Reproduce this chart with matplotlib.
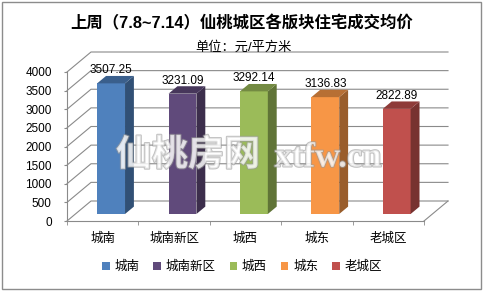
import numpy as np
import matplotlib
matplotlib.use("Agg")
import matplotlib.pyplot as plt
import matplotlib.patheffects as pe
from matplotlib.patches import Polygon, Patch, Rectangle
from matplotlib.transforms import Affine2D, IdentityTransform

plt.rcParams['font.family'] = ['Liberation Sans', 'Noto Sans CJK SC']

# data
districts = ["城南", "城南新区", "城西", "城东", "老城区"]
prices = [3507.25, 3231.09, 3292.14, 3136.83, 2822.89]
colors = ["#4F81BD", "#604A7B", "#9BBB59", "#F79646", "#C0504D"]
y_ticks = [0, 500, 1000, 1500, 2000, 2500, 3000, 3500, 4000]

title = "上周（7.8~7.14）仙桃城区各版块住宅成交均价"
subtitle = "单位：元/平方米"

W, H = 483, 291
fig = plt.figure(figsize=(W / 100, H / 100), dpi=100)
fig.patch.set_facecolor("white")

# front plane of the 3d box: x 67..424 px, y 221..72 px
ax = fig.add_axes([67 / W, 1 - 221 / H, 357 / W, 149 / H])
ax.set_xlim(-0.5, 4.5)
ax.set_ylim(0, 4000)
ax.patch.set_alpha(0)

grid_c = "#8a8a8a"
for s in ["top", "right"]:
    ax.spines[s].set_visible(False)
for s in ["left", "bottom"]:
    ax.spines[s].set_color(grid_c)
    ax.spines[s].set_linewidth(0.8)

ax.set_yticks(y_ticks)
ax.set_yticklabels([str(v) for v in y_ticks], fontsize=8.5)
ax.tick_params(axis="y", length=2, pad=9, color=grid_c)
x = np.arange(len(districts))
ax.set_xticks(x)
ax.set_xticklabels(districts, fontsize=9)
ax.set_xticks(np.arange(-0.5, len(districts)), minor=True)
ax.tick_params(axis="x", which="major", length=0, pad=8)
ax.tick_params(axis="x", which="minor", length=3, color=grid_c)

depth = np.array([24.0, 20.0])  # pixel offset of back wall


def px(xv, yv, d):
    return ax.transData.transform((xv, yv)) + d * depth


ident = IdentityTransform()

# back wall grid and side diagonals
for v in y_ticks:
    a, b = px(-0.5, v, 0), px(-0.5, v, 1)
    c = px(4.5, v, 1)
    ax.add_line(plt.Line2D([a[0], b[0], c[0]], [a[1], b[1], c[1]], color=grid_c,
                           lw=0.8, transform=ident, clip_on=False, zorder=1))
a, b = px(4.5, 0, 0), px(4.5, 0, 1)
ax.add_line(plt.Line2D([a[0], b[0]], [a[1], b[1]], color=grid_c, lw=0.8,
                       transform=ident, clip_on=False, zorder=1))

# bars
f0, f1 = 0.35, 0.72
bw = 0.39


def shade(c, k):
    rgb = np.array(matplotlib.colors.to_rgb(c))
    return tuple(rgb * k)


off = Affine2D().translate(*(f0 * depth))
bars = ax.bar(x, prices, width=bw, color=colors, zorder=3,
              transform=ax.transData + off, clip_on=False)
for xi, v, c in zip(x, prices, colors):
    l, r = xi - bw / 2, xi + bw / 2
    side = [px(r, 0, f0), px(r, v, f0), px(r, v, f1), px(r, 0, f1)]
    top = [px(l, v, f0), px(r, v, f0), px(r, v, f1), px(l, v, f1)]
    ax.add_patch(Polygon(side, closed=True, facecolor=shade(c, 0.62), edgecolor="none",
                         transform=ident, clip_on=False, zorder=3))
    ax.add_patch(Polygon(top, closed=True, facecolor=shade(c, 0.74), edgecolor="none",
                         transform=ident, clip_on=False, zorder=3))
    ax.annotate(f"{v:.2f}", (xi, v), xytext=(f0 * depth[0], f0 * depth[1] + 13),
                textcoords="offset pixels", ha="center", va="center", fontsize=8.5, zorder=5)

# titles
fig.text(0.5, 1 - 23 / H, title, ha="center", va="center", fontsize=11.8, fontweight="bold")
fig.text(243 / W, 1 - 47 / H, subtitle, ha="center", va="center", fontsize=9.5)

# watermark
wm = dict(color="white", alpha=0.6, zorder=6,
          path_effects=[pe.withStroke(linewidth=1.5, foreground="#9a9a9a")])
fig.text(188 / W, 1 - 156 / H, "仙桃房网", ha="center", va="center", fontsize=26,
         fontweight="bold", **wm)
fig.text(328 / W, 1 - 158 / H, "xtfw.cn", ha="center", va="center", fontsize=25,
         family="Liberation Serif", fontweight="bold", **wm)

# legend
handles = [Patch(facecolor=c, edgecolor="none") for c in colors]
fig.legend(handles, districts, loc="center", bbox_to_anchor=(242 / W, 1 - 267 / H),
           ncol=5, frameon=False, fontsize=9, handlelength=0.6, handleheight=0.6,
           handletextpad=0.4, columnspacing=1.1)

# outer border
fig.add_artist(Rectangle((2 / W, 2 / H), 1 - 4 / W, 1 - 4 / H, transform=fig.transFigure,
                         fill=False, edgecolor="#8c8c8c", lw=1))

fig.savefig("out.png", dpi=100)
